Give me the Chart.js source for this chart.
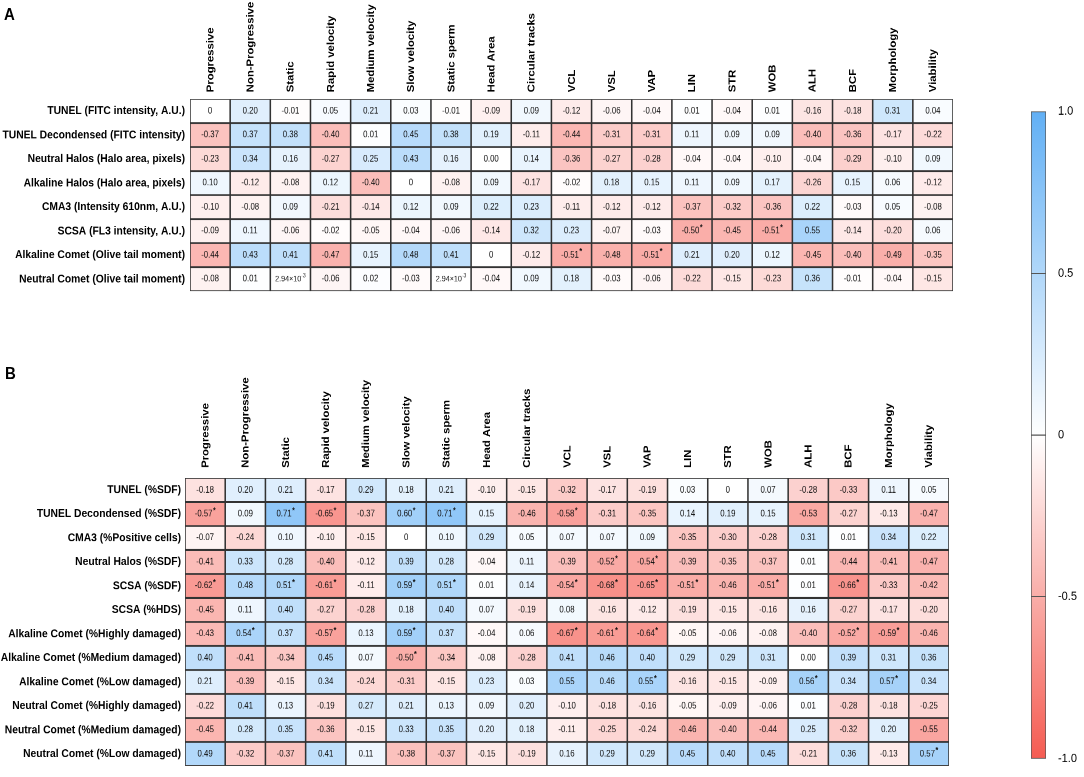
<!DOCTYPE html>
<html>
<head>
<meta charset="utf-8">
<script src="https://cdn.jsdelivr.net/npm/chart.js@4"></script>
<style>
  body { margin: 0; background: #fff; }
  #stage { position: absolute; left: 0; top: 0; width: 1084px; height: 688px; transform: scaleY(1.13); transform-origin: 0 0; }
  #stage canvas { position: absolute; }
  .tag { position: absolute; font: bold 15px Arial, "Liberation Sans", sans-serif; color: #000; }
</style>
</head>
<body>
<div id="stage">
  <div class="tag" style="left:4px;top:4px">A</div>
  <div class="tag" style="left:5px;top:321px">B</div>
  <canvas id="panelA" width="1000" height="270" style="left:0;top:0"></canvas>
  <canvas id="panelB" width="1000" height="388" style="left:0;top:300px"></canvas>
  <canvas id="scaleBar" width="84" height="610" style="left:1000px;top:80px"></canvas>
</div>
<script>
const FONT = 'Arial, "Liberation Sans", sans-serif';

// sperm parameters (columns of both panels)
const columns = ['Progressive', 'Non-Progressive', 'Static', 'Rapid velocity', 'Medium velocity',
  'Slow velocity', 'Static sperm', 'Head Area', 'Circular tracks', 'VCL', 'VSL', 'VAP',
  'LIN', 'STR', 'WOB', 'ALH', 'BCF', 'Morphology', 'Viability'];

// panel A: raw intensity / area measures
const rowsA = ['TUNEL (FITC intensity, A.U.)', 'TUNEL Decondensed (FITC intensity)',
  'Neutral Halos (Halo area, pixels)', 'Alkaline Halos (Halo area, pixels)',
  'CMA3 (Intensity 610nm, A.U.)', 'SCSA (FL3 intensity, A.U.)',
  'Alkaline Comet (Olive tail moment)', 'Neutral Comet (Olive tail moment)'];

// correlation as printed, '*' = significant
const valuesA = [
  ['0', '0.20', '-0.01', '0.05', '0.21', '0.03', '-0.01', '-0.09', '0.09', '-0.12', '-0.06', '-0.04', '0.01', '-0.04', '0.01', '-0.16', '-0.18', '0.31', '0.04'],
  ['-0.37', '0.37', '0.38', '-0.40', '0.01', '0.45', '0.38', '0.19', '-0.11', '-0.44', '-0.31', '-0.31', '0.11', '0.09', '0.09', '-0.40', '-0.36', '-0.17', '-0.22'],
  ['-0.23', '0.34', '0.16', '-0.27', '0.25', '0.43', '0.16', '0.00', '0.14', '-0.36', '-0.27', '-0.28', '-0.04', '-0.04', '-0.10', '-0.04', '-0.29', '-0.10', '0.09'],
  ['0.10', '-0.12', '-0.08', '0.12', '-0.40', '0', '-0.08', '0.09', '-0.17', '-0.02', '0.18', '0.15', '0.11', '0.09', '0.17', '-0.26', '0.15', '0.06', '-0.12'],
  ['-0.10', '-0.08', '0.09', '-0.21', '-0.14', '0.12', '0.09', '0.22', '0.23', '-0.11', '-0.12', '-0.12', '-0.37', '-0.32', '-0.36', '0.22', '-0.03', '0.05', '-0.08'],
  ['-0.09', '0.11', '-0.06', '-0.02', '-0.05', '-0.04', '-0.06', '-0.14', '0.32', '0.23', '-0.07', '-0.03', '-0.50*', '-0.45', '-0.51*', '0.55', '-0.14', '-0.20', '0.06'],
  ['-0.44', '0.43', '0.41', '-0.47', '0.15', '0.48', '0.41', '0', '-0.12', '-0.51*', '-0.48', '-0.51*', '0.21', '0.20', '0.12', '-0.45', '-0.40', '-0.49', '-0.35'],
  ['-0.08', '0.01', '2.94e-3', '-0.06', '0.02', '-0.03', '2.94e-3', '-0.04', '0.09', '0.18', '-0.03', '-0.06', '-0.22', '-0.15', '-0.23', '0.36', '-0.01', '-0.04', '-0.15']
];

// panel B: percentages
const rowsB = ['TUNEL (%SDF)', 'TUNEL Decondensed (%SDF)', 'CMA3 (%Positive cells)',
  'Neutral Halos (%SDF)', 'SCSA (%SDF)', 'SCSA (%HDS)', 'Alkaline Comet (%Highly damaged)',
  'Alkaline Comet (%Medium damaged)', 'Alkaline Comet (%Low damaged)',
  'Neutral Comet (%Highly damaged)', 'Neutral Comet (%Medium damaged)', 'Neutral Comet (%Low damaged)'];

const valuesB = [
  ['-0.18', '0.20', '0.21', '-0.17', '0.29', '0.18', '0.21', '-0.10', '-0.15', '-0.32', '-0.17', '-0.19', '0.03', '0', '0.07', '-0.28', '-0.33', '0.11', '0.05'],
  ['-0.57*', '0.09', '0.71*', '-0.65*', '-0.37', '0.60*', '0.71*', '0.15', '-0.46', '-0.58*', '-0.31', '-0.35', '0.14', '0.19', '0.15', '-0.53', '-0.27', '-0.13', '-0.47'],
  ['-0.07', '-0.24', '0.10', '-0.10', '-0.15', '0', '0.10', '0.29', '0.05', '0.07', '0.07', '0.09', '-0.35', '-0.30', '-0.28', '0.31', '0.01', '0.34', '0.22'],
  ['-0.41', '0.33', '0.28', '-0.40', '-0.12', '0.39', '0.28', '-0.04', '0.11', '-0.39', '-0.52*', '-0.54*', '-0.39', '-0.35', '-0.37', '0.01', '-0.44', '-0.41', '-0.47'],
  ['-0.62*', '0.48', '0.51*', '-0.61*', '-0.11', '0.59*', '0.51*', '0.01', '0.14', '-0.54*', '-0.68*', '-0.65*', '-0.51*', '-0.46', '-0.51*', '0.01', '-0.66*', '-0.33', '-0.42'],
  ['-0.45', '0.11', '0.40', '-0.27', '-0.28', '0.18', '0.40', '0.07', '-0.19', '0.08', '-0.16', '-0.12', '-0.19', '-0.15', '-0.16', '0.16', '-0.27', '-0.17', '-0.20'],
  ['-0.43', '0.54*', '0.37', '-0.57*', '0.13', '0.59*', '0.37', '-0.04', '0.06', '-0.67*', '-0.61*', '-0.64*', '-0.05', '-0.06', '-0.08', '-0.40', '-0.52*', '-0.59*', '-0.46'],
  ['0.40', '-0.41', '-0.34', '0.45', '0.07', '-0.50*', '-0.34', '-0.08', '-0.28', '0.41', '0.46', '0.40', '0.29', '0.29', '0.31', '0.00', '0.39', '0.31', '0.36'],
  ['0.21', '-0.39', '-0.15', '0.34', '-0.24', '-0.31', '-0.15', '0.23', '0.03', '0.55', '0.46', '0.55*', '-0.16', '-0.15', '-0.09', '0.56*', '0.34', '0.57*', '0.34'],
  ['-0.22', '0.41', '0.13', '-0.19', '0.27', '0.21', '0.13', '0.09', '0.20', '-0.10', '-0.18', '-0.16', '-0.05', '-0.09', '-0.06', '0.01', '-0.28', '-0.18', '-0.25'],
  ['-0.45', '0.28', '0.35', '-0.36', '-0.15', '0.33', '0.35', '0.20', '0.18', '-0.11', '-0.25', '-0.24', '-0.46', '-0.40', '-0.44', '0.25', '-0.32', '0.20', '-0.55'],
  ['0.49', '-0.32', '-0.37', '0.41', '0.11', '-0.38', '-0.37', '-0.15', '-0.19', '0.16', '0.29', '0.29', '0.45', '0.40', '0.45', '-0.21', '0.36', '-0.13', '0.57*']
];

// colour scale ticks
const scaleTicks = [1, 0.5, 0, -0.5, -1];
const scaleLabels = ['1.0', '0.5', '0', '-0.5', '-1.0'];

const BLUE = [98, 176, 245];
const RED = [245, 92, 82];

function parseCell(s) {
  const sig = s.endsWith('*');
  const txt = sig ? s.slice(0, -1) : s;
  return { txt, sig, num: Number(txt) };
}

function cellColor(v) {
  const end = v >= 0 ? BLUE : RED;
  const t = Math.min(Math.abs(v), 1);
  return 'rgb(' + end.map(c => Math.round(255 + (c - 255) * t)).join(',') + ')';
}

// writes the coefficient in each cell
const cellText = {
  id: 'cellText',
  afterDatasetsDraw(chart, args, opts) {
    const { ctx } = chart;
    const xs = chart.scales.x, ys = chart.scales.y;
    ctx.save();
    ctx.textBaseline = 'middle';
    ctx.fillStyle = '#111';
    opts.values.forEach((row, i) => {
      const cy = ys.getPixelForValue(i);
      row.forEach((s, j) => {
        const c = parseCell(s);
        const cx = xs.getPixelForValue(j + 0.5);
        if (c.txt.includes('e')) {
          const [m, e] = c.txt.split('e');
          const base = m + '\u00d710';
          ctx.font = '7.2px ' + FONT;
          const w1 = ctx.measureText(base).width;
          ctx.font = '5px ' + FONT;
          const w2 = ctx.measureText(e).width;
          const x0 = cx - (w1 + w2) / 2;
          ctx.textAlign = 'left';
          ctx.font = '7.2px ' + FONT;
          ctx.fillText(base, x0, cy);
          ctx.font = '5px ' + FONT;
          ctx.fillText(e, x0 + w1, cy - 3);
        } else {
          ctx.font = '7.8px ' + FONT;
          ctx.textAlign = 'center';
          const shift = c.sig ? -1.5 : 0;
          ctx.fillText(c.txt, cx + shift, cy);
          if (c.sig) {
            const w = ctx.measureText(c.txt).width;
            ctx.font = 'bold 7px ' + FONT;
            ctx.textAlign = 'left';
            ctx.fillText('*', cx + shift + w / 2 + 0.5, cy - 3);
          }
        }
      });
    });
    ctx.restore();
  }
};

function heatmap(id, rowNames, values, g) {
  const datasets = columns.map((name, j) => ({
    label: name,
    data: rowNames.map(() => [j, j + 1]),
    backgroundColor: ctx => cellColor(parseCell(values[ctx.dataIndex][j]).num),
    borderColor: '#333',
    borderWidth: 1.1,
    borderSkipped: false,
    categoryPercentage: 1,
    barPercentage: 1,
    grouped: false
  }));
  return new Chart(document.getElementById(id), {
    type: 'bar',
    data: { labels: rowNames, datasets },
    plugins: [cellText],
    options: {
      indexAxis: 'y',
      responsive: false,
      animation: false,
      devicePixelRatio: 2,
      layout: { padding: { left: 0, top: 0, right: g.width - g.right, bottom: g.height - g.bottom } },
      plugins: {
        legend: { display: false },
        tooltip: { enabled: false },
        cellText: { values }
      },
      scales: {
        x: { type: 'linear', min: 0, max: columns.length, display: false },
        y: {
          type: 'category',
          grid: { display: false, drawTicks: false },
          border: { display: false },
          ticks: { color: '#000', padding: g.rowPad, font: { family: FONT, size: 10.3, weight: 'bold' } },
          afterFit: s => { s.width = g.left; }
        },
        x2: {
          axis: 'x',
          type: 'category',
          position: 'top',
          labels: columns,
          offset: true,
          grid: { display: false, drawTicks: false },
          border: { display: false },
          ticks: {
            autoSkip: false, minRotation: 90, maxRotation: 90,
            padding: g.colPad, labelOffset: 12.5, color: '#000',
            font: { family: FONT, size: 10, weight: 'bold' }
          },
          afterFit: s => { s.height = g.top; }
        }
      }
    }
  });
}

heatmap('panelA', rowsA, valuesA, { width: 1000, height: 270, left: 190, right: 953, top: 87.6, bottom: 257.6, rowPad: 5, colPad: 6 });
heatmap('panelB', rowsB, valuesB, { width: 1000, height: 388, left: 185, right: 949, top: 123, bottom: 378, rowPad: 4, colPad: 9 });

// colour bar
new Chart(document.getElementById('scaleBar'), {
  type: 'bar',
  data: {
    labels: [''],
    datasets: [{
      data: [[scaleTicks[scaleTicks.length - 1], scaleTicks[0]]],
      backgroundColor: ctx => {
        const a = ctx.chart.chartArea;
        if (!a) return '#fff';
        const gr = ctx.chart.ctx.createLinearGradient(0, a.top, 0, a.bottom);
        gr.addColorStop(0, cellColor(1));
        gr.addColorStop(0.5, '#fff');
        gr.addColorStop(1, cellColor(-1));
        return gr;
      },
      borderColor: '#555',
      borderWidth: 1,
      borderSkipped: false,
      categoryPercentage: 1,
      barPercentage: 1
    }]
  },
  options: {
    responsive: false,
    animation: false,
    devicePixelRatio: 2,
    layout: { padding: { left: 31, top: 8.5, right: 0, bottom: 9.5 } },
    plugins: { legend: { display: false }, tooltip: { enabled: false } },
    scales: {
      x: { display: false },
      y: {
        position: 'right',
        min: -1, max: 1,
        border: { display: false },
        grid: {
          z: 1, drawTicks: false, borderDash: [3, 9], lineWidth: 1,
          color: ctx => (ctx.tick && Math.abs(ctx.tick.value) === 1) ? 'rgba(0,0,0,0)' : '#555'
        },
        ticks: {
          stepSize: 0.5, padding: 12, color: '#000',
          font: { family: FONT, size: 11 },
          callback: v => scaleLabels[scaleTicks.indexOf(v)]
        },
        afterFit: s => { s.width = 38; }
      }
    }
  }
});
</script>
</body>
</html>
